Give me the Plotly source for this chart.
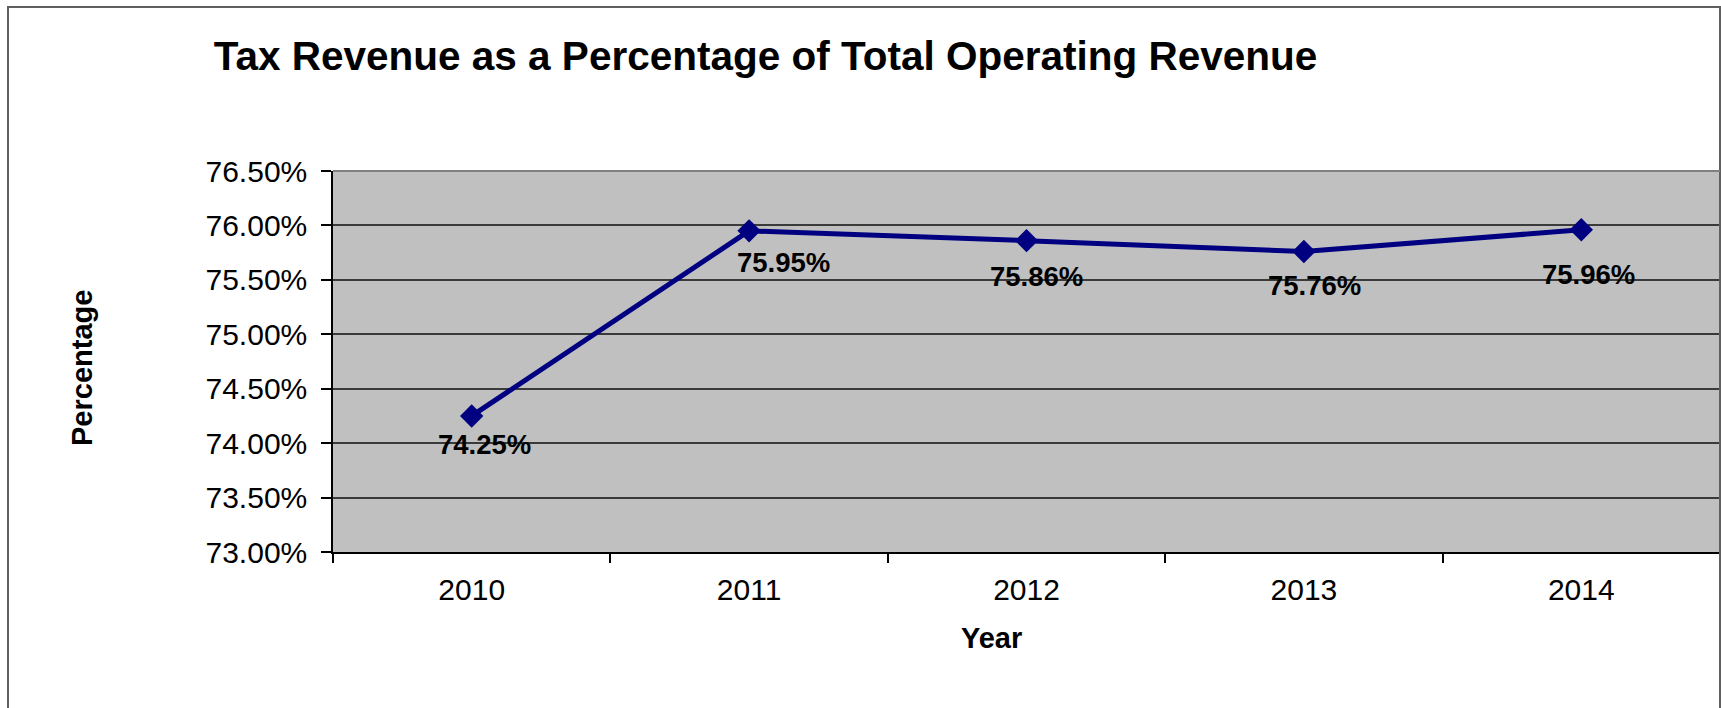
import plotly.graph_objects as go

# Tax revenue share of total operating revenue, by fiscal year
years = ["2010", "2011", "2012", "2013", "2014"]
tax_share_pct = [74.25, 75.95, 75.86, 75.76, 75.96]
y_ticks = [73.0, 73.5, 74.0, 74.5, 75.0, 75.5, 76.0, 76.5]

# per-point nudges for the value labels (pixels, right / down)
label_dx = [13, 34, 10, 11, 7]
label_dy = [29, 32, 36, 34, 45]

W, H = 1721, 708
L, R, T, B = 333, 1, 171, 156
PW, PH = W - L - R, H - T - B

FONT = "Arial, Liberation Sans, sans-serif"
NAVY = "#000080"


def px_x(px):
    return (px - L) / PW


def px_y(py):
    return (H - B - py) / PH


fig = go.Figure()
fig.add_trace(go.Scatter(
    x=years,
    y=tax_share_pct,
    mode="lines+markers",
    line=dict(color=NAVY, width=5),
    marker=dict(symbol="diamond", size=18, color=NAVY),
    hoverinfo="skip",
    showlegend=False,
))

annotations = []
# category axis annotations are placed by category index
for i, (v, dx, dy) in enumerate(zip(tax_share_pct, label_dx, label_dy)):
    annotations.append(dict(
        x=i, y=v, xref="x", yref="y",
        text=f"<b>{v:.2f}%</b>", showarrow=False,
        xanchor="center", yanchor="middle",
        xshift=dx, yshift=-dy,
        font=dict(family=FONT, size=27.5, color="#000000"),
    ))

# axis titles
annotations.append(dict(
    x=px_x(82), y=px_y(368), xref="paper", yref="paper",
    text="<b>Percentage</b>", textangle=-90, showarrow=False,
    xanchor="center", yanchor="middle",
    font=dict(family=FONT, size=29, color="#000000"),
))
annotations.append(dict(
    x=px_x(991), y=px_y(638), xref="paper", yref="paper",
    text="<b>Year</b>", showarrow=False,
    xanchor="center", yanchor="middle",
    font=dict(family=FONT, size=29, color="#000000"),
))

shapes = [
    # chart frame
    dict(type="rect", xref="paper", yref="paper",
         x0=px_x(8), x1=px_x(1720), y0=px_y(730), y1=px_y(7),
         line=dict(color="#606060", width=2), fillcolor="rgba(0,0,0,0)",
         layer="above"),
    # plot area top edge
    dict(type="line", xref="paper", yref="paper",
         x0=0, x1=1, y0=1, y1=1,
         line=dict(color="#808080", width=2), layer="above"),
]

fig.update_layout(
    width=W, height=H, autosize=False,
    margin=dict(l=L, r=R, t=T, b=B, pad=0),
    paper_bgcolor="#FFFFFF",
    plot_bgcolor="#C0C0C0",
    font=dict(family=FONT, color="#000000"),
    title=dict(
        text="<b>Tax Revenue as a Percentage of Total Operating Revenue</b>",
        x=765.5 / W, xref="container", xanchor="center",
        y=1 - 56 / H, yref="container", yanchor="middle",
        font=dict(family=FONT, size=40.5, color="#000000"),
    ),
    xaxis=dict(
        type="category",
        range=[-0.5, 4.5],
        showgrid=False,
        showline=True, linecolor="#000000", linewidth=2,
        ticks="outside", tickson="boundaries", ticklen=9,
        tickcolor="#000000", tickwidth=1.5,
        tickfont=dict(family=FONT, size=30, color="#000000"),
        ticklabelstandoff=10,
        zeroline=False, fixedrange=True,
    ),
    yaxis=dict(
        range=[73.0, 76.5],
        tickvals=y_ticks,
        ticktext=[f"{t:.2f}%" for t in y_ticks],
        showgrid=True, gridcolor="#3a3a3a", gridwidth=1.5,
        showline=True, linecolor="#000000", linewidth=1.5,
        ticks="outside", ticklen=10,
        tickcolor="#000000", tickwidth=1.5,
        tickfont=dict(family=FONT, size=30, color="#000000"),
        ticklabelstandoff=8,
        zeroline=False, fixedrange=True,
    ),
    annotations=annotations,
    shapes=shapes,
)

fig.write_html("out.html")
